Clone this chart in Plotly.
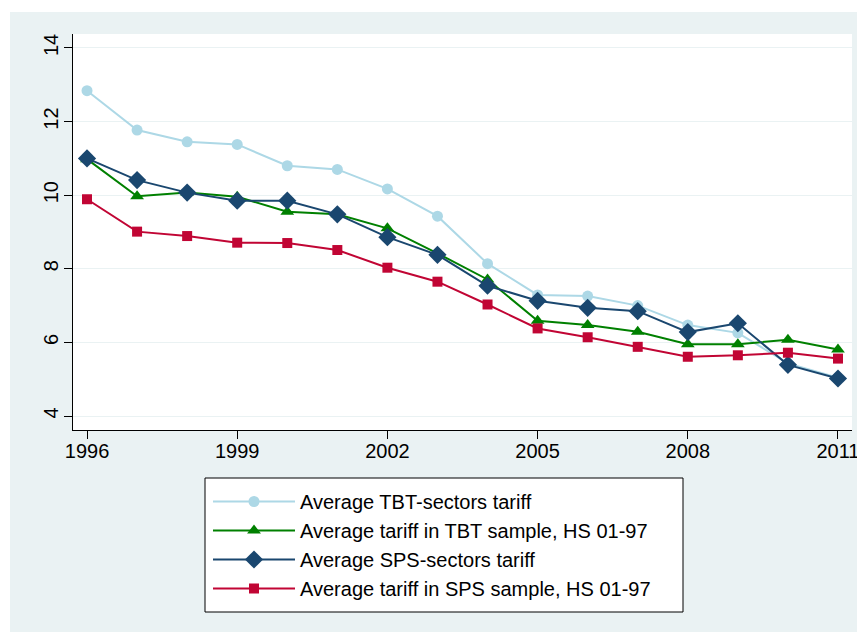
import plotly.graph_objects as go

years = list(range(1996, 2012))
tbt_sectors = [12.84, 11.77, 11.45, 11.38, 10.80, 10.70, 10.17, 9.43, 8.14, 7.29, 7.26, 7.00, 6.47, 6.26, 5.43, 5.04]
tbt_sample = [10.98, 9.97, 10.07, 9.96, 9.55, 9.48, 9.10, 8.42, 7.71, 6.59, 6.47, 6.29, 5.95, 5.95, 6.07, 5.81]
sps_sectors = [11.0, 10.41, 10.07, 9.85, 9.85, 9.48, 8.86, 8.38, 7.54, 7.13, 6.94, 6.85, 6.28, 6.52, 5.39, 5.02]
sps_sample = [9.89, 9.01, 8.89, 8.71, 8.70, 8.51, 8.03, 7.65, 7.03, 6.38, 6.14, 5.88, 5.61, 5.65, 5.72, 5.56]

names = ["Average TBT-sectors tariff",
         "Average tariff in TBT sample, HS 01-97",
         "Average SPS-sectors tariff",
         "Average tariff in SPS sample, HS 01-97"]
x_ticks = [1996, 1999, 2002, 2005, 2008, 2011]
y_ticks = [4, 6, 8, 10, 12, 14]

BG = "#EAF2F3"
FONT = "Liberation Sans, Arial, sans-serif"

series = [
    (tbt_sectors, "#add8e6", "circle", 11),
    (tbt_sample, "#008000", "triangle-up", 12),
    (sps_sectors, "#1a476f", "diamond", 14),
    (sps_sample, "#c10534", "square", 10),
]

fig = go.Figure()
for i, (vals, col, sym, sz) in enumerate(series):
    fig.add_trace(go.Scatter(
        x=years, y=vals, name=names[i], mode="lines+markers",
        line=dict(color=col, width=2),
        marker=dict(color=col, symbol=sym, size=sz, line=dict(width=0)),
        legendgroup=f"g{i}",
    ))

# page body has an 8px margin; figure sized to end at the window edge
OFF = 8
W, H = 865 - OFF, 635 - OFF
L, R, T, B = 73 - OFF, 13, 34 - OFF, 205
pw, ph = W - L - R, H - T - B

def px(sx):
    return (sx - OFF - L) / pw

def py(sy):
    return (H - B - (sy - OFF)) / ph

shapes = [
    dict(type="rect", xref="paper", yref="paper", x0=px(OFF), x1=px(10), y0=py(OFF + H), y1=py(OFF),
         fillcolor="white", line=dict(width=0), layer="below"),
    dict(type="rect", xref="paper", yref="paper", x0=px(OFF), x1=px(OFF + W), y0=py(12), y1=py(OFF),
         fillcolor="white", line=dict(width=0), layer="below"),
    dict(type="rect", xref="paper", yref="paper", x0=px(OFF), x1=px(OFF + W), y0=py(OFF + H), y1=py(632),
         fillcolor="white", line=dict(width=0), layer="below"),
    # legend frame
    dict(type="rect", xref="paper", yref="paper", x0=px(205), x1=px(683), y0=py(612), y1=py(478),
         fillcolor="white", line=dict(color="black", width=1), layer="below"),
]

fig.update_layout(
    width=W, height=H,
    margin=dict(l=L, r=R, t=T, b=B, pad=0, autoexpand=False),
    paper_bgcolor=BG, plot_bgcolor="white",
    font=dict(family=FONT, size=20, color="black"),
    shapes=shapes,
    showlegend=True,
    legend=dict(
        xref="container", yref="container",
        x=(208 - OFF) / W, xanchor="left", y=1 - (482 - OFF) / H, yanchor="top",
        bgcolor="rgba(0,0,0,0)", borderwidth=0,
        font=dict(family=FONT, size=20, color="black"),
        itemwidth=82, tracegroupgap=5.5, traceorder="normal",
    ),
    xaxis=dict(
        range=[1995.72, 2011.28], tickvals=x_ticks, ticks="outside", ticklen=8,
        tickcolor="black", showline=True, linecolor="black", linewidth=1,
        showgrid=False, zeroline=False, tickfont=dict(size=20), automargin=False,
        ticklabelstandoff=-5,
    ),
    yaxis=dict(
        range=[3.62, 14.38], tickvals=y_ticks, ticks="outside", ticklen=8,
        tickcolor="black", showline=True, linecolor="black", linewidth=1,
        showgrid=True, gridcolor=BG, gridwidth=1, zeroline=False,
        tickangle=-90, tickfont=dict(size=20), ticklabelstandoff=-2, automargin=False,
    ),
)

fig.write_html("out.html")
